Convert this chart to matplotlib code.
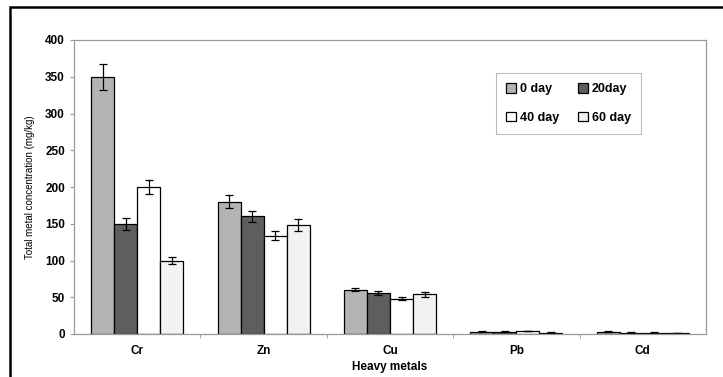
import matplotlib
matplotlib.use("Agg")
import matplotlib.pyplot as plt
import numpy as np
from matplotlib.patches import Rectangle

plt.rcParams['font.family'] = ['Liberation Sans', 'DejaVu Sans']

metals = ["Cr", "Zn", "Cu", "Pb", "Cd"]
series = ["0 day", "20day", "40 day", "60 day"]
day0 = [350, 180, 60, 3, 3]
day20 = [150, 160, 56, 3, 2]
day40 = [200, 134, 48, 4, 2]
day60 = [100, 148, 54, 2, 1]
err0 = [18, 9, 2, 0.5, 0.5]
err20 = [8, 8, 3, 0.5, 0.5]
err40 = [10, 6, 2, 0.5, 0.3]
err60 = [5, 8, 3, 0.3, 0.3]
colors = ["#b4b4b4", "#5e5e5e", "#ffffff", "#f2f2f2"]

fig = plt.figure(figsize=(7.23, 3.77), dpi=100)
ax = fig.add_axes([74/723, 1-334/377, 632/723, 294/377])

x = np.arange(len(metals))
w = 0.182
vals = [day0, day20, day40, day60]
errs = [err0, err20, err40, err60]
bars = []
for i in range(4):
    b = ax.bar(x + (i - 1.5)*w, vals[i], w, color=colors[i], edgecolor="black",
               linewidth=0.9, yerr=errs[i], capsize=3,
               error_kw=dict(elinewidth=0.9, capthick=0.9, ecolor="black"),
               label=series[i], zorder=2)
    bars.append(b)

ax.set_xlim(-0.5, 4.5)
ax.set_ylim(0, 400)
ax.set_yticks(np.arange(0, 401, 50))
ax.set_xticks(x)
ax.set_xticklabels(metals, fontsize=8.5, fontweight="bold")
ax.set_xticks(np.arange(0.5, 4.5, 1), minor=True)
ax.tick_params(axis="x", which="major", length=0, pad=8)
ax.tick_params(axis="x", which="minor", length=3, color="#999999")
ax.tick_params(axis="y", length=3, color="#999999", labelsize=8.5)
for lab in ax.get_yticklabels():
    lab.set_fontweight("bold")
for s in ax.spines.values():
    s.set_color("#999999")
    s.set_linewidth(0.9)

ax.set_ylabel("Total metal concentration (mg/kg)", fontsize=7, labelpad=7)
ax.set_xlabel("Heavy metals", fontsize=8.5, fontweight="bold", labelpad=3)

order = [0, 2, 1, 3]
leg = ax.legend([bars[i] for i in order], [series[i] for i in order], ncol=2,
                loc="upper left", bbox_to_anchor=(416/632, 1-27/294),
                frameon=True, fancybox=False, edgecolor="#aaaaaa",
                prop=dict(size=9, weight="bold"), handlelength=0.8,
                handleheight=0.8, handletextpad=0.3, columnspacing=1.5,
                labelspacing=1.3, borderpad=0.8)
leg.get_frame().set_linewidth(0.8)

# outer frame
fig.patches.append(Rectangle((10/723, -0.05), 1.0, 1-7/377+0.05,
                             transform=fig.transFigure, fill=False,
                             edgecolor="black", linewidth=1.8))

fig.savefig("out.png", dpi=100)
